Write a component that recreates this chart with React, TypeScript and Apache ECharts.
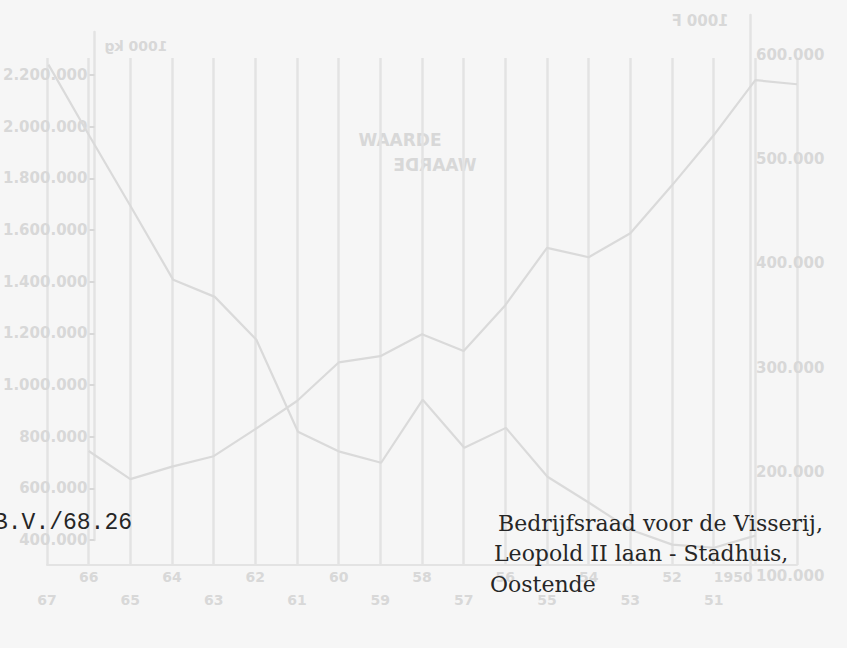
import React, { useEffect, useRef } from "react";
import * as echarts from "echarts";

// Years along the (mirrored) horizontal axis: 1949 at the right edge, 1967 at the left.
const YEARS = [
  "1949", "1950", "1951", "1952", "1953", "1954", "1955", "1956", "1957", "1958",
  "1959", "1960", "1961", "1962", "1963", "1964", "1965", "1966", "1967",
];

// Series read from the faint (bled-through) curves.
const SERIES_LEFT = [
  null, 417000, 370000, 382000, 440000, 544000, 645000, 834000, 757000, 943000,
  699000, 742000, 819000, 1175000, 1341000, 1407000, 1685000, 1960000, 2240000,
];
const SERIES_RIGHT = [
  572000, 576000, 523000, 475000, 429000, 406000, 415000, 360000, 316000, 332000,
  311000, 305000, 268000, 241000, 215000, 205000, 193000, 220000, null,
];

// Axis tick settings
const LEFT_MIN = 400000;
const LEFT_MAX = 2366300;
const LEFT_STEP = 200000;
const LEFT_LAST_LABEL = 2200000;
const RIGHT_MIN = 100000;
const RIGHT_MAX = 638500;
const RIGHT_STEP = 100000;
const RIGHT_LAST_LABEL = 600000;

const LEFT_UNIT = "1000 kg";
const RIGHT_UNIT = "1000 F";
const CURVE_LABEL = "WAARDE";
const REF_CODE = "B.V./68.26";
const ADDRESS = ["Bedrijfsraad voor de Visserij,", "Leopold II laan - Stadhuis,", "Oostende"];

const fmt = (v: number) => String(v).replace(/\B(?=(\d{3})+(?!\d))/g, ".");

const FAINT_LINE = "#e3e3e3";
const FAINT_TEXT = "#d8d8d8";
const CURVE = "#dadada";
const INK = "#262626";

export default function App() {
  const ref = useRef<HTMLDivElement>(null);
  useEffect(() => {
    if (!ref.current) return;
    const chart = echarts.init(ref.current, undefined, { renderer: "svg" });
    const common = { left: 47, right: 50 };
    chart.setOption({
      animation: false,
      backgroundColor: "#f6f6f6",
      grid: [
        { ...common, top: 58, bottom: 83 },
        { ...common, top: 32, bottom: 108 },
        { ...common, top: 15, bottom: 72 },
      ],
      xAxis: [
        {
          gridIndex: 0,
          type: "category",
          data: YEARS,
          inverse: true,
          boundaryGap: false,
          axisLine: { show: true, lineStyle: { color: FAINT_LINE, width: 2 } },
          axisTick: { show: false },
          splitLine: { show: true, lineStyle: { color: FAINT_LINE, width: 2.5 } },
          axisLabel: {
            interval: 0,
            margin: 0,
            lineHeight: 23,
            color: FAINT_TEXT,
            fontFamily: "DejaVu Sans",
            fontWeight: "bold",
            fontSize: 14,
            rich: {
              first: {
                color: FAINT_TEXT,
                fontFamily: "DejaVu Sans",
                fontWeight: "bold",
                fontSize: 14,
                padding: [0, 44, 0, 0],
              },
            },
            formatter: (val: string) => {
              const y = Number(val);
              if (y === 1949) return "";
              if (y === 1950) return "{first|1950}";
              const s = val.slice(2);
              return y % 2 === 0 ? s : "\n" + s;
            },
          },
        },
        { gridIndex: 1, type: "category", data: YEARS, inverse: true, boundaryGap: false, show: false },
        { gridIndex: 2, type: "category", data: YEARS, inverse: true, boundaryGap: false, show: false },
      ],
      yAxis: [
        { gridIndex: 0, type: "value", show: false, min: 0, max: 1 },
        {
          gridIndex: 1,
          type: "value",
          position: "left",
          offset: -46,
          min: LEFT_MIN,
          max: LEFT_MAX,
          interval: LEFT_STEP,
          splitLine: { show: false },
          axisLine: { show: true, lineStyle: { color: FAINT_LINE, width: 2.5 } },
          axisTick: { show: true, length: 5, lineStyle: { color: FAINT_TEXT, width: 2 } },
          axisLabel: {
            margin: 7,
            color: FAINT_TEXT,
            fontFamily: "DejaVu Sans",
            fontWeight: "bold",
            fontSize: 15,
            showMaxLabel: false,
            formatter: (v: number) =>
              v % LEFT_STEP === 0 && v <= LEFT_LAST_LABEL ? fmt(v) : "",
          },
        },
        {
          gridIndex: 2,
          type: "value",
          position: "right",
          offset: -47,
          min: RIGHT_MIN,
          max: RIGHT_MAX,
          interval: RIGHT_STEP,
          splitLine: { show: false },
          axisLine: { show: true, lineStyle: { color: FAINT_LINE, width: 2.5 } },
          axisTick: { show: false },
          axisLabel: {
            margin: 6,
            color: FAINT_TEXT,
            fontFamily: "DejaVu Sans",
            fontWeight: "bold",
            fontSize: 15,
            showMaxLabel: false,
            formatter: (v: number) =>
              v % RIGHT_STEP === 0 && v <= RIGHT_LAST_LABEL ? fmt(v) : "",
          },
        },
      ],
      series: [
        {
          type: "line",
          xAxisIndex: 1,
          yAxisIndex: 1,
          data: SERIES_LEFT,
          symbol: "none",
          clip: false,
          lineStyle: { color: CURVE, width: 2.2 },
        },
        {
          type: "line",
          xAxisIndex: 2,
          yAxisIndex: 2,
          data: SERIES_RIGHT,
          symbol: "none",
          clip: false,
          lineStyle: { color: CURVE, width: 2.2 },
        },
      ],
      graphic: [
        {
          type: "text",
          x: 136,
          y: 46,
          scaleX: -1,
          style: {
            text: LEFT_UNIT,
            fill: FAINT_TEXT,
            font: "bold 14px 'DejaVu Sans'",
            align: "center",
            verticalAlign: "middle",
            textAlign: "center",
            textVerticalAlign: "middle",
          },
        },
        {
          type: "text",
          x: 700,
          y: 21,
          scaleX: -1,
          style: {
            text: RIGHT_UNIT,
            fill: FAINT_TEXT,
            font: "bold 15px 'DejaVu Sans'",
            align: "center",
            verticalAlign: "middle",
            textAlign: "center",
            textVerticalAlign: "middle",
          },
        },
        {
          type: "text",
          x: 400,
          y: 140,
          style: {
            text: CURVE_LABEL,
            fill: FAINT_TEXT,
            font: "bold 17px 'DejaVu Sans'",
            align: "center",
            verticalAlign: "middle",
            textAlign: "center",
            textVerticalAlign: "middle",
          },
        },
        {
          type: "text",
          x: 435,
          y: 165,
          scaleX: -1,
          style: {
            text: CURVE_LABEL,
            fill: FAINT_TEXT,
            font: "bold 17px 'DejaVu Sans'",
            align: "center",
            verticalAlign: "middle",
            textAlign: "center",
            textVerticalAlign: "middle",
          },
        },
        {
          type: "text",
          x: -6,
          y: 523,
          z: 100,
          style: {
            text: REF_CODE,
            fill: INK,
            font: "23px 'Liberation Mono'",
            align: "left",
            verticalAlign: "middle",
            textAlign: "left",
            textVerticalAlign: "middle",
          },
        },
        ...ADDRESS.map((t, i) => ({
          type: "text",
          x: [498, 494, 490][i],
          y: [523, 553, 584][i],
          z: 100,
          style: {
            text: t,
            fill: INK,
            font: "22px 'DejaVu Serif'",
            align: "left",
            verticalAlign: "middle",
            textAlign: "left",
            textVerticalAlign: "middle",
          },
        })),
      ],
    });
    return () => chart.dispose();
  }, []);
  return (
    <div
      ref={ref}
      style={{ position: "fixed", left: 0, top: 0, width: 847, height: 648 }}
    />
  );
}
